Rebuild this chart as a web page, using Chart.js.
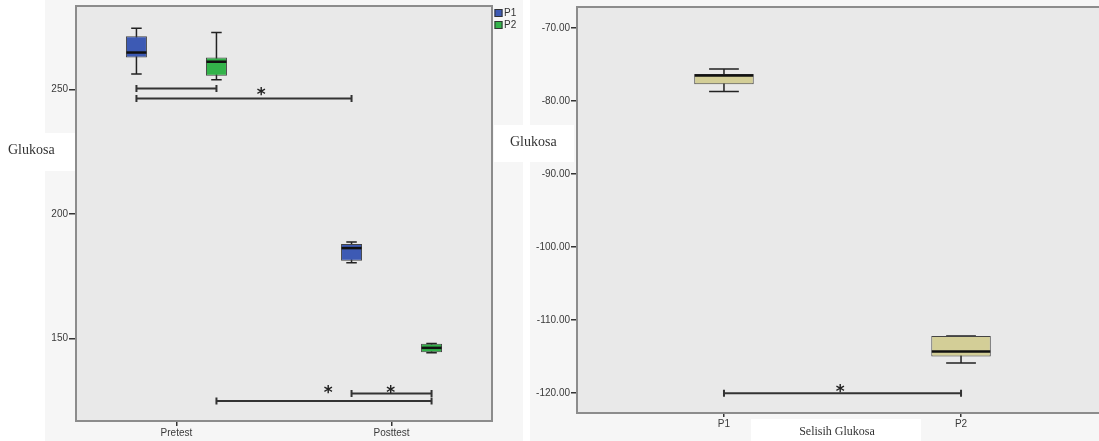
<!DOCTYPE html>
<html>
<head>
<meta charset="utf-8">
<title>Glukosa</title>
<script src="https://cdn.jsdelivr.net/npm/chart.js@4.4.1/dist/chart.umd.min.js"></script>
<style>
    html, body { margin: 0; padding: 0; background: #ffffff; }
    body { width: 1099px; height: 441px; position: relative; overflow: hidden; }
    #leftChart { position: absolute; left: 0; top: 0; }
    #rightChart { position: absolute; left: 480px; top: 0; }
</style>
</head>
<body>
<canvas id="leftChart" width="530" height="441"></canvas>
<canvas id="rightChart" width="619" height="441"></canvas>
<script>
// Left chart: glucose before and after, per treatment group
const testLabels = ['Pretest', 'Posttest'];
const groupLabels = ['P1', 'P2'];
const leftTicks = [150, 200, 250];

// five-number summaries, one value per test
const p1Min = [256.3, 180.4];
const p1Q1 = [262.9, 181.2];
const p1Median = [264.9, 186.3];
const p1Q3 = [271.4, 187.9];
const p1Max = [274.7, 188.7];

const p2Min = [254.0, 144.2];
const p2Q1 = [255.6, 144.4];
const p2Median = [261.2, 146.2];
const p2Q3 = [262.9, 147.8];
const p2Max = [272.9, 147.9];

// significance brackets: [dataset, test] -> [dataset, test] at a glucose value
const leftBracketFrom = [[0, 0], [0, 0], [1, 0], [0, 1]];
const leftBracketTo = [[1, 0], [0, 1], [1, 1], [1, 1]];
const leftBracketValue = [250.4, 246.4, 124.8, 127.9];
// stars: which bracket, how far along it, at which value
const leftStarBracket = [1, 2, 3];
const leftStarAlong = [0.58, 0.52, 0.49];
const leftStarValue = [249.9, 130.1, 130.1];

// Right chart: difference (posttest - pretest)
const diffLabels = ['P1', 'P2'];
const rightTicks = [-120, -110, -100, -90, -80, -70];
const diffMin = [-78.7, -115.9];
const diffQ1 = [-77.7, -115.0];
const diffMedian = [-76.5, -114.3];
const diffQ3 = [-76.3, -112.2];
const diffMax = [-75.6, -112.2];

const rightBracketFrom = [[0, 0]];
const rightBracketTo = [[0, 1]];
const rightBracketValue = [-120.05];
const rightStarBracket = [0];
const rightStarAlong = [0.49];
const rightStarValue = [-119.2];

const TICK_FONT = { family: '"Liberation Sans", Arial, sans-serif', size: 10 };
const TITLE_FONT = '"Liberation Serif", "Times New Roman", serif';

// Build one box dataset (box = floating bar q1..q3)
function boxDataset(label, color, min, q1, median, q3, max, catPct, barPct) {
    return {
        label: label,
        data: q1.map((lo, i) => ({ x: i, y: [lo, q3[i]] })),
        backgroundColor: color,
        borderColor: '#444444',
        borderWidth: 1,
        borderSkipped: false,
        categoryPercentage: catPct,
        barPercentage: barPct,
        stats: { min: min, median: median, max: max }
    };
}

// Category-like axis on a linear scale (one tick per label)
function labelAxis(labels, min, max, height, tickLength) {
    return {
        type: 'linear',
        min: min,
        max: max,
        offset: false,
        border: { display: false },
        grid: { drawOnChartArea: false, offset: false, tickLength: tickLength, color: '#333333', lineWidth: 1.5 },
        afterBuildTicks: scale => { scale.ticks = labels.map((l, i) => ({ value: i })); },
        afterFit: scale => { scale.height = height; scale.paddingLeft = 0; scale.paddingRight = 0; },
        ticks: { autoSkip: false, maxRotation: 0, padding: 1, color: '#3a3a3a', font: TICK_FONT, callback: v => labels[v] }
    };
}

function valueAxis(values, min, max, width, tickLength, format) {
    return {
        type: 'linear',
        min: min,
        max: max,
        border: { display: false },
        grid: { drawOnChartArea: false, tickLength: tickLength, color: '#333333', lineWidth: 1.5 },
        afterBuildTicks: scale => { scale.ticks = values.map(v => ({ value: v })); },
        afterFit: scale => { scale.width = width; scale.paddingTop = 0; scale.paddingBottom = 0; },
        ticks: { padding: 1, color: '#3a3a3a', font: TICK_FONT, callback: format }
    };
}

// Whiskers behind the boxes
function drawWhiskers(chart) {
    const ctx = chart.ctx;
    const y = chart.scales.y;
    ctx.save();
    ctx.strokeStyle = '#222222';
    ctx.lineWidth = 1.5;
    chart.data.datasets.forEach((ds, d) => {
        chart.getDatasetMeta(d).data.forEach((bar, i) => {
            const cap = bar.width / 4;
            const top = y.getPixelForValue(ds.stats.max[i]);
            const bottom = y.getPixelForValue(ds.stats.min[i]);
            ctx.beginPath();
            ctx.moveTo(bar.x, top);
            ctx.lineTo(bar.x, bottom);
            ctx.moveTo(bar.x - cap, top);
            ctx.lineTo(bar.x + cap, top);
            ctx.moveTo(bar.x - cap, bottom);
            ctx.lineTo(bar.x + cap, bottom);
            ctx.stroke();
        });
    });
    ctx.restore();
}

// Median line on top of the boxes
function drawMedians(chart) {
    const ctx = chart.ctx;
    const y = chart.scales.y;
    ctx.save();
    ctx.strokeStyle = '#111111';
    ctx.lineWidth = 2.5;
    chart.data.datasets.forEach((ds, d) => {
        chart.getDatasetMeta(d).data.forEach((bar, i) => {
            const yy = y.getPixelForValue(ds.stats.median[i]);
            ctx.beginPath();
            ctx.moveTo(bar.x - bar.width / 2 + 0.5, yy);
            ctx.lineTo(bar.x + bar.width / 2 - 0.5, yy);
            ctx.stroke();
        });
    });
    ctx.restore();
}

// Significance brackets and stars
function drawBrackets(chart, from, to, values, starOn, starAlong, starValues) {
    const ctx = chart.ctx;
    const y = chart.scales.y;
    const centre = p => chart.getDatasetMeta(p[0]).data[p[1]].x;
    ctx.save();
    ctx.strokeStyle = '#333333';
    ctx.lineWidth = 2;
    from.forEach((f, k) => {
        const x1 = centre(f);
        const x2 = centre(to[k]);
        const yy = y.getPixelForValue(values[k]);
        ctx.beginPath();
        ctx.moveTo(x1, yy);
        ctx.lineTo(x2, yy);
        ctx.moveTo(x1, yy - 3.5);
        ctx.lineTo(x1, yy + 3.5);
        ctx.moveTo(x2, yy - 3.5);
        ctx.lineTo(x2, yy + 3.5);
        ctx.stroke();
    });
    ctx.fillStyle = '#222222';
    ctx.font = 'bold 17px "DejaVu Sans", sans-serif';
    ctx.textAlign = 'center';
    ctx.textBaseline = 'alphabetic';
    starOn.forEach((b, k) => {
        const x1 = centre(from[b]);
        const x2 = centre(to[b]);
        const xx = x1 + (x2 - x1) * starAlong[k];
        const yy = y.getPixelForValue(starValues[k]);
        ctx.fillText('*', xx, yy + 10);
    });
    ctx.restore();
}

// Panel and plot backgrounds, white patches behind titles
function drawBackground(chart, outerLeft, outerRight, patches) {
    const ctx = chart.ctx;
    const a = chart.chartArea;
    ctx.save();
    ctx.fillStyle = '#f6f6f6';
    ctx.fillRect(outerLeft, 0, outerRight - outerLeft, chart.height);
    ctx.fillStyle = '#e9e9e9';
    ctx.fillRect(a.left, a.top, a.right - a.left, a.bottom - a.top);
    ctx.fillStyle = '#ffffff';
    patches.forEach(p => ctx.fillRect(p[0], p[1], p[2], p[3]));
    ctx.restore();
}

function drawFrame(chart, closeRight) {
    const ctx = chart.ctx;
    const a = chart.chartArea;
    ctx.save();
    ctx.strokeStyle = '#8c8c8c';
    ctx.lineWidth = 2;
    ctx.beginPath();
    if (closeRight) {
        ctx.rect(a.left, a.top, a.right - a.left, a.bottom - a.top);
    } else {
        ctx.moveTo(a.right, a.top);
        ctx.lineTo(a.left, a.top);
        ctx.lineTo(a.left, a.bottom);
        ctx.lineTo(a.right, a.bottom);
    }
    ctx.stroke();
    ctx.restore();
}

function drawTitle(chart, text, x, y, size, align) {
    const ctx = chart.ctx;
    ctx.save();
    ctx.fillStyle = '#333333';
    ctx.font = size + 'px ' + TITLE_FONT;
    ctx.textAlign = align;
    ctx.textBaseline = 'middle';
    ctx.fillText(text, x, y);
    ctx.restore();
}

// Left chart
const leftColors = ['#3d5ab4', '#33b34a'];

new Chart(document.getElementById('leftChart'), {
    type: 'bar',
    data: {
        datasets: [
            boxDataset(groupLabels[0], leftColors[0], p1Min, p1Q1, p1Median, p1Q3, p1Max, 0.744, 0.2625),
            boxDataset(groupLabels[1], leftColors[1], p2Min, p2Q1, p2Median, p2Q3, p2Max, 0.744, 0.2625)
        ]
    },
    options: {
        responsive: false,
        animation: false,
        devicePixelRatio: 1,
        layout: { padding: { top: 6, right: 38, left: 0, bottom: 0 } },
        scales: {
            x: labelAxis(testLabels, -0.467, 1.467, 20, 5),
            y: valueAxis(leftTicks, 116.8, 283.6, 76, 7, v => String(v))
        },
        plugins: { legend: { display: false }, tooltip: { enabled: false } }
    },
    plugins: [{
        id: 'leftDecor',
        beforeDraw(chart) {
            drawBackground(chart, 45, 523, [[0, 133, 75, 38]]);
        },
        beforeDatasetsDraw(chart) {
            drawWhiskers(chart);
        },
        afterDatasetsDraw(chart) {
            drawMedians(chart);
            drawBrackets(chart, leftBracketFrom, leftBracketTo, leftBracketValue,
                leftStarBracket, leftStarAlong, leftStarValue);
        },
        afterDraw(chart) {
            drawFrame(chart, true);
            drawTitle(chart, 'Glukosa', 8, 150, 14, 'left');
            // legend
            const ctx = chart.ctx;
            const left = chart.chartArea.right + 2.5;
            ctx.save();
            ctx.font = '10px "Liberation Sans", Arial, sans-serif';
            ctx.textBaseline = 'middle';
            ctx.textAlign = 'left';
            groupLabels.forEach((g, i) => {
                const top = 9 + i * 12;
                ctx.fillStyle = leftColors[i];
                ctx.fillRect(left, top, 8, 8);
                ctx.strokeStyle = '#333333';
                ctx.lineWidth = 1;
                ctx.strokeRect(left + 0.5, top + 0.5, 7, 7);
                ctx.fillStyle = '#333333';
                ctx.fillText(g, left + 9.5, top + 4.5);
            });
            ctx.restore();
        }
    }]
});

// Right chart
new Chart(document.getElementById('rightChart'), {
    type: 'bar',
    data: {
        datasets: [
            boxDataset('Selisih Glukosa', '#d3ce97', diffMin, diffQ1, diffMedian, diffQ3, diffMax, 1, 0.251)
        ]
    },
    options: {
        responsive: false,
        animation: false,
        devicePixelRatio: 1,
        layout: { padding: { top: 7, right: 0, left: 0, bottom: 0 } },
        scales: {
            x: labelAxis(diffLabels, -0.62, 1.582, 28, 4),
            y: valueAxis(rightTicks, -122.74, -67.12, 97, 6, v => v.toFixed(2))
        },
        plugins: { legend: { display: false }, tooltip: { enabled: false } }
    },
    plugins: [{
        id: 'rightDecor',
        beforeDraw(chart) {
            drawBackground(chart, 50, chart.width, [[14, 125, 80, 37], [271, 419, 170, 22]]);
        },
        beforeDatasetsDraw(chart) {
            drawWhiskers(chart);
        },
        afterDatasetsDraw(chart) {
            drawMedians(chart);
            drawBrackets(chart, rightBracketFrom, rightBracketTo, rightBracketValue,
                rightStarBracket, rightStarAlong, rightStarValue);
        },
        afterDraw(chart) {
            drawFrame(chart, false);
            drawTitle(chart, 'Glukosa', 30, 142, 14, 'left');
            drawTitle(chart, 'Selisih Glukosa', 357, 432, 12, 'center');
        }
    }]
});
</script>
</body>
</html>
